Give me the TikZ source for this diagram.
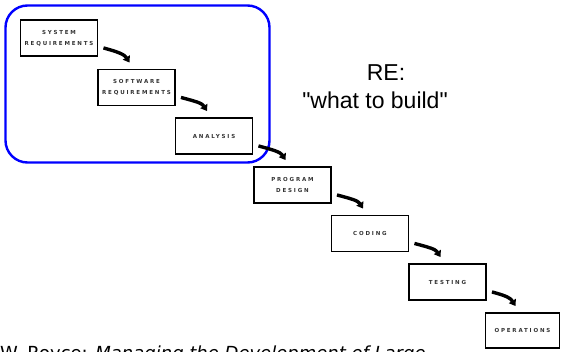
\documentclass[tikz,border=0pt]{standalone}
\usepackage{fontspec}
\setmainfont{Liberation Sans}
\newfontfamily\refont{Liberation Sans}[Ligatures=ResetAll]
\newfontfamily\boxfont[LetterSpace=33]{DejaVu Sans}
\newfontfamily\notefont{DejaVu Sans}
\usetikzlibrary{arrows.meta,calc}
\tikzset{
  stage/.style={draw=black, line width=1.9pt, minimum width=77pt, minimum height=36pt,
    inner sep=0pt, align=center, text=black!80,
    font=\boxfont\bfseries\fontsize{5.5}{11}\selectfont},
  flow/.style={line width=3.4pt, -{Triangle[length=6pt,width=8pt]}},
  retext/.style={font=\refont\fontsize{23}{28}\selectfont, inner sep=0pt}
}
\begin{document}
\begin{tikzpicture}[x=1pt,y=-1pt]
\useasboundingbox (0,0) rectangle (561,351);
\node[draw=blue, line width=2.4pt, rounded corners=22pt, minimum width=264pt,
      minimum height=157pt, inner sep=0pt] (rebox) at (137.5,84) {};
\node[stage] (sysreq) at (59,38) {SYSTEM\\REQUIREMENTS};
\node[stage] (swreq) at (136.5,87.5) {SOFTWARE\\REQUIREMENTS};
\node[stage] (analysis) at (214,136) {ANALYSIS};
\node[stage] (progdesign) at (292.5,185) {PROGRAM\\DESIGN};
\node[stage] (coding) at (370,233.5) {CODING};
\node[stage] (testing) at (447.5,282) {TESTING};
\node[stage, minimum width=74pt, minimum height=35pt] (operations) at (522.5,330.5) {OPERATIONS};
\foreach \a/\b in {sysreq/swreq, swreq/analysis, analysis/progdesign,
                   progdesign/coding, coding/testing, testing/operations}{
  \draw[flow] ($(\a.south east)+(5,-9)$) .. controls ($(\a.south east)+(20,-5)$)
     and ($(\b.north)+(-12,-14)$) .. ($(\b.north)+(-7,-6)$);
}
\node[retext, anchor=base] (re) at (386,80) {RE:};
\node[retext, anchor=base] (what) at (375,108) {"what to build"};
\node[font=\notefont\fontsize{18}{22}\selectfont, anchor=base west, inner sep=0pt]
  (note) at (0,359) {W. Royce: \textit{Managing the Development of Large}};
\end{tikzpicture}
\end{document}
